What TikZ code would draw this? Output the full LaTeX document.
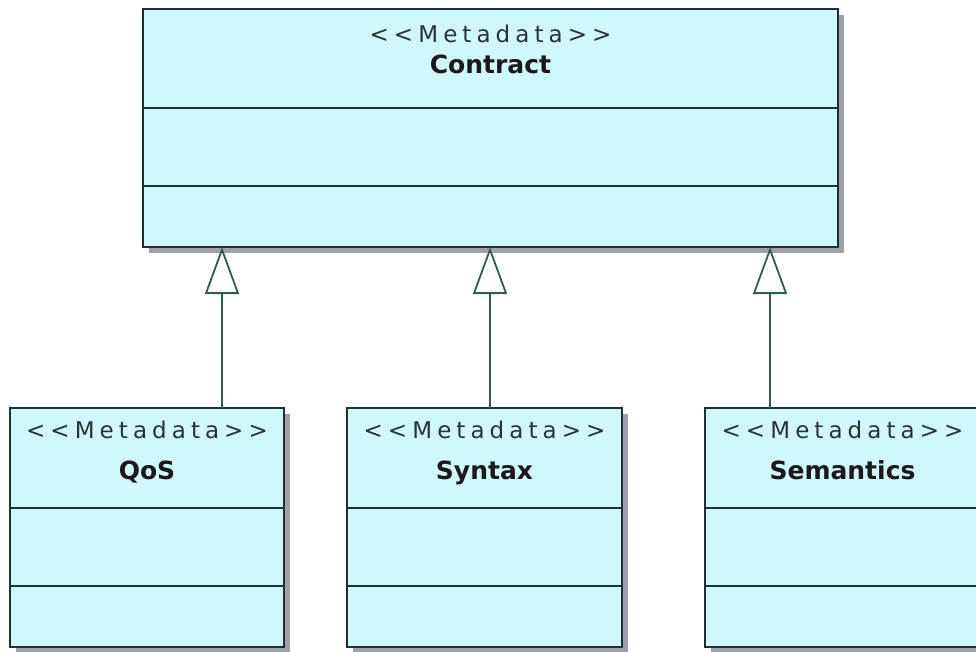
\documentclass[tikz,border=0pt]{standalone}
\usepackage{fontspec}
\usetikzlibrary{positioning}
\usetikzlibrary{calc}
\usetikzlibrary{shadows}
\usetikzlibrary{arrows.meta}

\newfontfamily\umlfont{DejaVu Sans}
\newfontfamily\stereofont[LetterSpace=22,Ligatures=TeXOff]{DejaVu Sans}

\definecolor{classfill}{RGB}{208,247,249}
\definecolor{classline}{RGB}{30,48,48}
\definecolor{linkline}{RGB}{50,88,88}
\definecolor{stereotext}{RGB}{40,52,52}
\definecolor{shadowgray}{RGB}{160,160,170}

\tikzset{
  part/.style={draw=classline, fill=classfill, line width=2.6pt,
    inner sep=0pt, outer sep=0pt,
    drop shadow={shadow xshift=6pt, shadow yshift=-6pt, fill=shadowgray, opacity=1}},
  stereo/.style={anchor=base, text=stereotext,
    font=\stereofont\fontsize{23}{27}\selectfont},
  cname/.style={anchor=base, text=black!90,
    font=\umlfont\bfseries\fontsize{25}{29}\selectfont},
  inherit/.style={draw=linkline, line width=2.3pt,
    -{Triangle[open, length=47pt, width=34pt, line width=1.8pt]}},
}

\begin{document}
\begin{tikzpicture}[x=1pt, y=-1pt]
    \useasboundingbox (0,0) rectangle (976,651);
    \clip (0,0) rectangle (976,651);

    % parent class
    \node[part, minimum width=695, minimum height=99, anchor=north west] (contract) at (143,9) {};
    \node[part, minimum width=695, minimum height=78, below=0pt of contract] (contract-attr) {};
    \node[part, minimum width=695, minimum height=61, below=0pt of contract-attr] (contract-ops) {};
    \node[stereo] (contract-st) at ([yshift=-33pt]contract.north) {<<Metadata>>};
    \node[cname] (contract-nm) at ([yshift=-64pt]contract.north) {Contract};

    % child classes
    \node[part, minimum width=274, minimum height=100, anchor=north west] (qos) at (10,408) {};
    \node[part, minimum width=274, minimum height=78, below=0pt of qos] (qos-attr) {};
    \node[part, minimum width=274, minimum height=61, below=0pt of qos-attr] (qos-ops) {};
    \node[stereo] (qos-st) at ([yshift=-30pt]qos.north) {<<Metadata>>};
    \node[cname] (qos-nm) at ([yshift=-71pt]qos.north) {QoS};

    \node[part, minimum width=275, minimum height=100, anchor=north west] (syntax) at (347,408) {};
    \node[part, minimum width=275, minimum height=78, below=0pt of syntax] (syntax-attr) {};
    \node[part, minimum width=275, minimum height=61, below=0pt of syntax-attr] (syntax-ops) {};
    \node[stereo] (syntax-st) at ([yshift=-30pt]syntax.north) {<<Metadata>>};
    \node[cname] (syntax-nm) at ([yshift=-71pt]syntax.north) {Syntax};

    \node[part, minimum width=275, minimum height=100, anchor=north west] (semantics) at (705,408) {};
    \node[part, minimum width=275, minimum height=78, below=0pt of semantics] (semantics-attr) {};
    \node[part, minimum width=275, minimum height=61, below=0pt of semantics-attr] (semantics-ops) {};
    \node[stereo] (semantics-st) at ([yshift=-30pt]semantics.north) {<<Metadata>>};
    \node[cname] (semantics-nm) at ([yshift=-71pt]semantics.north) {Semantics};

    % generalisations
    \draw[inherit] ([xshift=212pt]qos.north west) -- ([xshift=212pt]qos.north west |- contract-ops.south);
    \draw[inherit] ([xshift=143pt]syntax.north west) -- ([xshift=143pt]syntax.north west |- contract-ops.south);
    \draw[inherit] ([xshift=65pt]semantics.north west) -- ([xshift=65pt]semantics.north west |- contract-ops.south);
\end{tikzpicture}
\end{document}
